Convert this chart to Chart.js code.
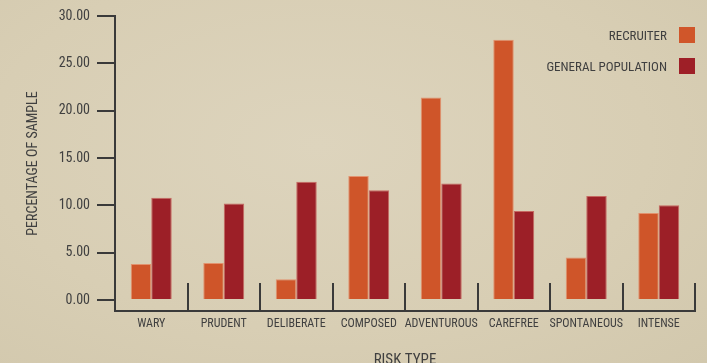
<!DOCTYPE html>
<html>
<head>
<meta charset="utf-8">
<script src="https://cdn.jsdelivr.net/npm/chart.js@4/dist/chart.umd.min.js"></script>
<style>
  html, body { margin: 0; padding: 0; }
  body {
    width: 707px; height: 363px; overflow: hidden;
    background: radial-gradient(ellipse at 45% 40%, #ddd4bd 0%, #d8ceb4 60%, #d2c8ad 100%);
    font-family: 'Roboto Condensed', 'DejaVu Sans Condensed', sans-serif;
  }
  #wrap { position: relative; width: 707px; height: 363px; }
  .legend { position: absolute; right: 12px; display: flex; align-items: center; color: #3f3f3f; font-size: 13px; }
  .legend span.box { display: inline-block; width: 16px; height: 16px; margin-left: 12px; }
</style>
</head>
<body>
<div id="wrap">
  <canvas id="chart" width="707" height="363"></canvas>
  <div class="legend" style="top:27px"><span>RECRUITER</span><span class="box" style="background:#d0562a"></span></div>
  <div class="legend" style="top:58px"><span>GENERAL POPULATION</span><span class="box" style="background:#9e1f27"></span></div>
</div>
<script>
const categories = ['WARY', 'PRUDENT', 'DELIBERATE', 'COMPOSED', 'ADVENTUROUS', 'CAREFREE', 'SPONTANEOUS', 'INTENSE'];
const recruiter = [3.8, 3.9, 2.2, 13.1, 21.4, 27.5, 4.5, 9.2];
const generalPopulation = [10.8, 10.2, 12.5, 11.6, 12.3, 9.4, 11.0, 10.0];
const yTicks = [0, 5, 10, 15, 20, 25, 30];

const axisColor = '#3a3a3a';
const textColor = '#404040';
const font = "'Roboto Condensed', 'DejaVu Sans Condensed', sans-serif";

// short upright separators between the categories, sitting on the x axis
const separators = {
  id: 'separators',
  afterDatasetsDraw(chart) {
    const x = chart.scales.x;
    const { ctx, chartArea } = chart;
    const half = (x.getPixelForValue(1) - x.getPixelForValue(0)) / 2;
    ctx.save();
    ctx.strokeStyle = axisColor;
    ctx.lineWidth = 2;
    for (let i = 0; i < categories.length; i++) {
      const px = Math.round(x.getPixelForValue(i) + half);
      ctx.beginPath();
      ctx.moveTo(px, chartArea.bottom);
      ctx.lineTo(px, chartArea.bottom - 28);
      ctx.stroke();
    }
    ctx.restore();
  }
};

new Chart(document.getElementById('chart'), {
  type: 'bar',
  data: {
    labels: categories,
    datasets: [
      { label: 'RECRUITER', data: recruiter, backgroundColor: '#cf5529', borderColor: 'rgba(230,120,80,0.7)', borderWidth: 1, borderSkipped: 'bottom' },
      { label: 'GENERAL POPULATION', data: generalPopulation, backgroundColor: '#9c1f27', borderColor: 'rgba(190,60,60,0.7)', borderWidth: 1, borderSkipped: 'bottom' }
    ]
  },
  options: {
    responsive: false,
    animation: false,
    layout: { padding: { top: 16, right: 12, left: 0, bottom: 0 } },
    plugins: { legend: { display: false }, tooltip: { enabled: false } },
    datasets: { bar: { categoryPercentage: 0.565, barPercentage: 1.0 } },
    scales: {
      x: {
        grid: { display: false, drawTicks: false },
        border: { display: true, color: axisColor, width: 2 },
        ticks: { color: textColor, font: { family: font, size: 12 }, padding: 6, maxRotation: 0, autoSkip: false },
        title: { display: true, text: 'RISK TYPE', color: textColor, font: { family: font, size: 15 }, padding: { top: 19, bottom: -6 } },
        afterFit(scale) { scale.height = 52; }
      },
      y: {
        min: -1.16,
        max: 30,
        afterBuildTicks(scale) { scale.ticks = yTicks.map(v => ({ value: v })); },
        grid: { display: true, drawOnChartArea: false, drawTicks: true, tickLength: 18, color: axisColor, lineWidth: 2 },
        border: { display: true, color: axisColor, width: 2 },
        ticks: { color: textColor, font: { family: font, size: 14 }, padding: 7, callback: v => v.toFixed(2) },
        title: { display: true, text: 'PERCENTAGE OF SAMPLE', color: textColor, font: { family: font, size: 14 }, padding: { bottom: 20, top: 25 } },
        afterFit(scale) { scale.width = 115; }
      }
    }
  },
  plugins: [separators]
});
</script>
</body>
</html>
